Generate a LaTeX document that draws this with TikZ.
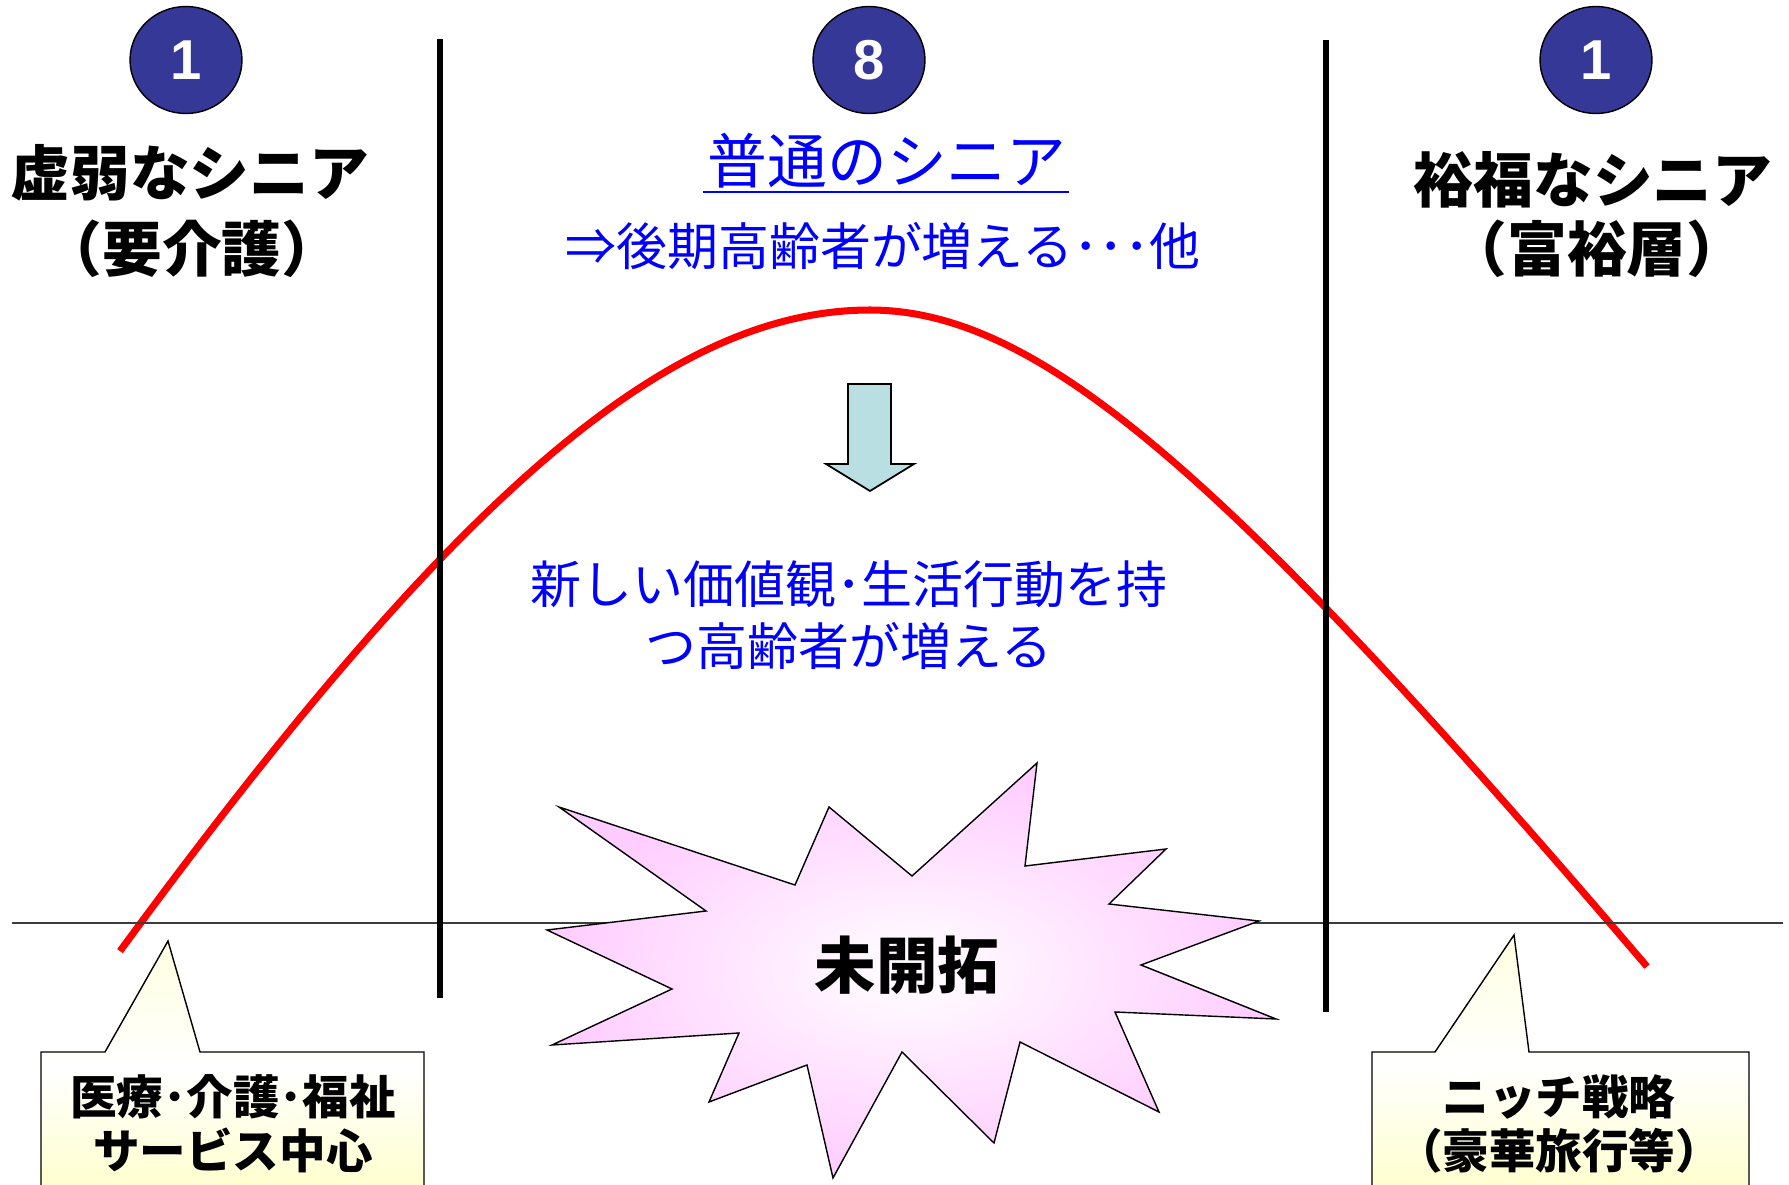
\documentclass[tikz,border=0pt]{standalone}
\usepackage{fontspec}
\newfontfamily\jp{Noto Sans CJK JP}
\newfontfamily\arialb{Liberation Sans}
\usetikzlibrary{shapes.geometric}
\definecolor{navy}{RGB}{53,56,150}
\definecolor{arrowfill}{RGB}{185,223,226}
\definecolor{burst}{RGB}{255,204,255}
\definecolor{note}{RGB}{255,255,204}
\definecolor{axisgray}{RGB}{60,60,60}
\begin{document}
\begin{tikzpicture}[x=0.02cm,y=-0.02cm,
  numcirc/.style={ellipse, draw=black, line width=0.8pt, fill=navy, minimum width=2.24cm, minimum height=2.14cm, inner sep=0pt, text=white, font=\arialb\bfseries\fontsize{32}{36}\selectfont},
  head/.style={inner sep=0pt, font=\jp\bfseries\fontsize{34}{40}\selectfont},
  bluehead/.style={inner sep=0pt, text=blue, font=\jp\fontsize{34}{40}\selectfont},
  bluetxt/.style={inner sep=0pt, text=blue, align=center, font=\jp\fontsize{29}{35.7}\selectfont},
  notetxt/.style={inner sep=0pt, align=center, font=\jp\bfseries\fontsize{26.5}{30.6}\selectfont},
  divider/.style={line width=3.2pt, black},
  bell/.style={red, line width=4pt},
  callout/.style={draw=black, line width=0.8pt, top color=note!60, bottom color=note, middle color=white}
]
\useasboundingbox (0,0) rectangle (1789,1185);
\fill[white] (0,0) rectangle (1789,1185);
\clip (0,0) rectangle (1789,1185);

% bell curve (two hyperbolic halves meeting at the peak)
\draw[bell] plot[domain=120:870, samples=90] (\x, {310 + 944*(sqrt(1+((\x-870)/556)^2)-1)})
  -- plot[domain=870:1647, samples=90] (\x, {310 + 413.6*(sqrt(1+((\x-870)/325.6)^2)-1)});

% axis and dividers
\coordinate (axL) at (12,923);
\coordinate (axR) at (1783,923);
\draw[axisgray, line width=0.8pt] (axL) -- (axR);
\coordinate (d1t) at (440,39);
\coordinate (d1b) at (440,998);
\coordinate (d2t) at (1326,40);
\coordinate (d2b) at (1326,1012);
\draw[divider] (d1t) -- (d1b);
\draw[divider] (d2t) -- (d2b);

% number circles
\node[numcirc] (c1) at (186,60) {1};
\node[numcirc] (c8) at (869,60) {8};
\node[numcirc] (c3) at (1596,60) {1};

% headings
\node[head] (h1a) at (190,173) {虚弱なシニア};
\node[head] (h1b) at (192,249) {（要介護）};
\node[head] (h3a) at (1593,180) {裕福なシニア};
\node[head] (h3b) at (1597,249) {（富裕層）};
\node[bluehead] (h2a) at (887,161) {普通のシニア};
\draw[blue, line width=1.7pt] (703,192) -- (1069,192);
\node[bluetxt] (h2b) at (883,246) {⇒後期高齢者が増える･･･他};

% down arrow
\draw[fill=arrowfill, draw=black, line width=1pt] (848,384) -- (891,384) -- (891,464) -- (914,464) -- (870,491) -- (826,464) -- (848,464) -- cycle;

\node[bluetxt] (mid) at (849,615) {新しい価値観･生活行動を持\\つ高齢者が増える};

% starburst
\draw[draw=black, line width=0.8pt, inner color=white, outer color=burst]
 (559,807) -- (795,885) -- (829,807) -- (912,876) -- (1037,763) -- (1025,866)
 -- (1166,849) -- (1109,904) -- (1259,921) -- (1141,965) -- (1276,1019)
 -- (1115,1012) -- (1159,1112) -- (1020,1042) -- (994,1143) -- (902,1052)
 -- (833,1178) -- (807,1065) -- (709,1102) -- (739,1033) -- (552,1045)
 -- (672,989) -- (547,930) -- (706,911) -- cycle;
\node[inner sep=0pt, font=\jp\bfseries\fontsize{35}{40}\selectfont] (unexp) at (907,965) {未開拓};

% callouts
\draw[callout] (41,1052) -- (105,1052) -- (168,941) -- (200,1052) -- (424,1052) -- (424,1195) -- (41,1195) -- cycle;
\node[notetxt] (n1) at (233,1124) {医療･介護･福祉\\サービス中心};
\draw[callout] (1372,1052) -- (1435,1052) -- (1514,935) -- (1529,1052) -- (1749,1052) -- (1749,1195) -- (1372,1195) -- cycle;
\node[notetxt] (n2) at (1559,1124) {ニッチ戦略\\（豪華旅行等）};
\end{tikzpicture}
\end{document}
